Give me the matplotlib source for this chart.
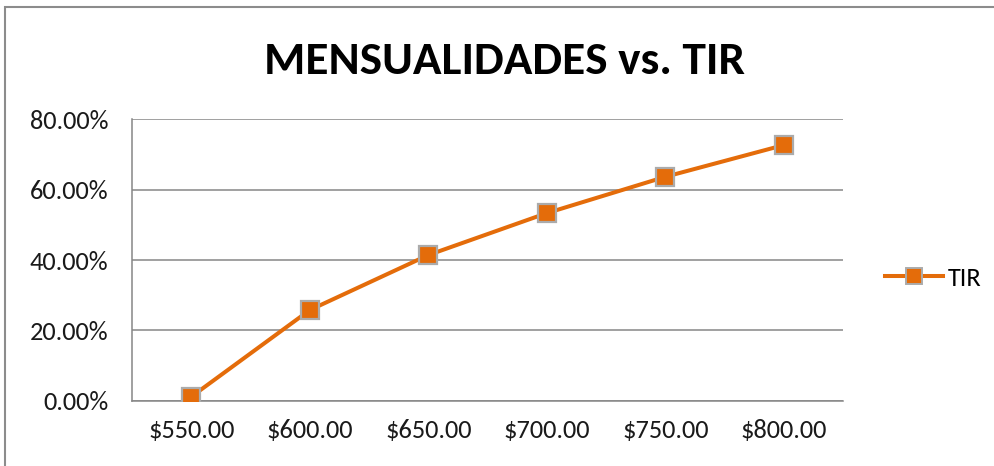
import matplotlib.pyplot as plt
from matplotlib.patches import Rectangle
from matplotlib.lines import Line2D
from matplotlib.ticker import FuncFormatter

plt.rcParams['font.family'] = ['Carlito', 'DejaVu Sans']

# datos
mensualidades = ['$550.00', '$600.00', '$650.00', '$700.00', '$750.00', '$800.00']
tir = [0.012, 0.258, 0.414, 0.533, 0.636, 0.726]

naranja = '#E46C0A'
gris = '#868686'

fig = plt.figure(figsize=(9.94, 4.66), dpi=100)
ax = fig.add_axes([0.1328, 0.1395, 0.7153, 0.6051])

x = range(len(mensualidades))
ax.plot(x, tir, color=naranja, lw=2.9, marker='s', ms=13,
        mfc=naranja, mec='#ABABAB', mew=1.6, zorder=3)

ax.set_xlim(-0.5, len(mensualidades) - 0.5)
ax.set_ylim(0, 0.8)
ax.set_yticks([0, 0.2, 0.4, 0.6, 0.8])
ax.yaxis.set_major_formatter(FuncFormatter(lambda v, p: f'{v*100:.2f}%'))
ax.set_xticks(list(x))
ax.set_xticklabels(mensualidades)
ax.tick_params(length=0, labelsize=19, colors='#1a1a1a')
ax.tick_params(axis='y', pad=17)
ax.tick_params(axis='x', pad=13)
ax.grid(axis='y', color=gris, lw=1.1)
ax.set_axisbelow(True)
for s in ['top', 'right']:
    ax.spines[s].set_visible(False)
for s in ['left', 'bottom']:
    ax.spines[s].set_color(gris)
    ax.spines[s].set_linewidth(1.1)

fig.text(0.508, 0.87, 'MENSUALIDADES vs. TIR', ha='center', va='center',
         fontsize=34, fontweight='bold', color='black')

# leyenda a la derecha
handle = Line2D([], [], color=naranja, lw=2.9, marker='s', ms=11,
                mfc=naranja, mec='#ABABAB', mew=1.4)
fig.legend([handle], ['TIR'], loc='center left', bbox_to_anchor=(0.866, 0.403),
           frameon=False, fontsize=19, handlelength=2.2, handletextpad=0.2)

# borde del area del grafico
fig.patches.append(Rectangle((5/994, -0.1), 1.2, (466 - 7)/466 + 0.1,
                             transform=fig.transFigure, fill=False,
                             ec='#8c8c8c', lw=1.5))

fig.savefig('out.png', dpi=100)
